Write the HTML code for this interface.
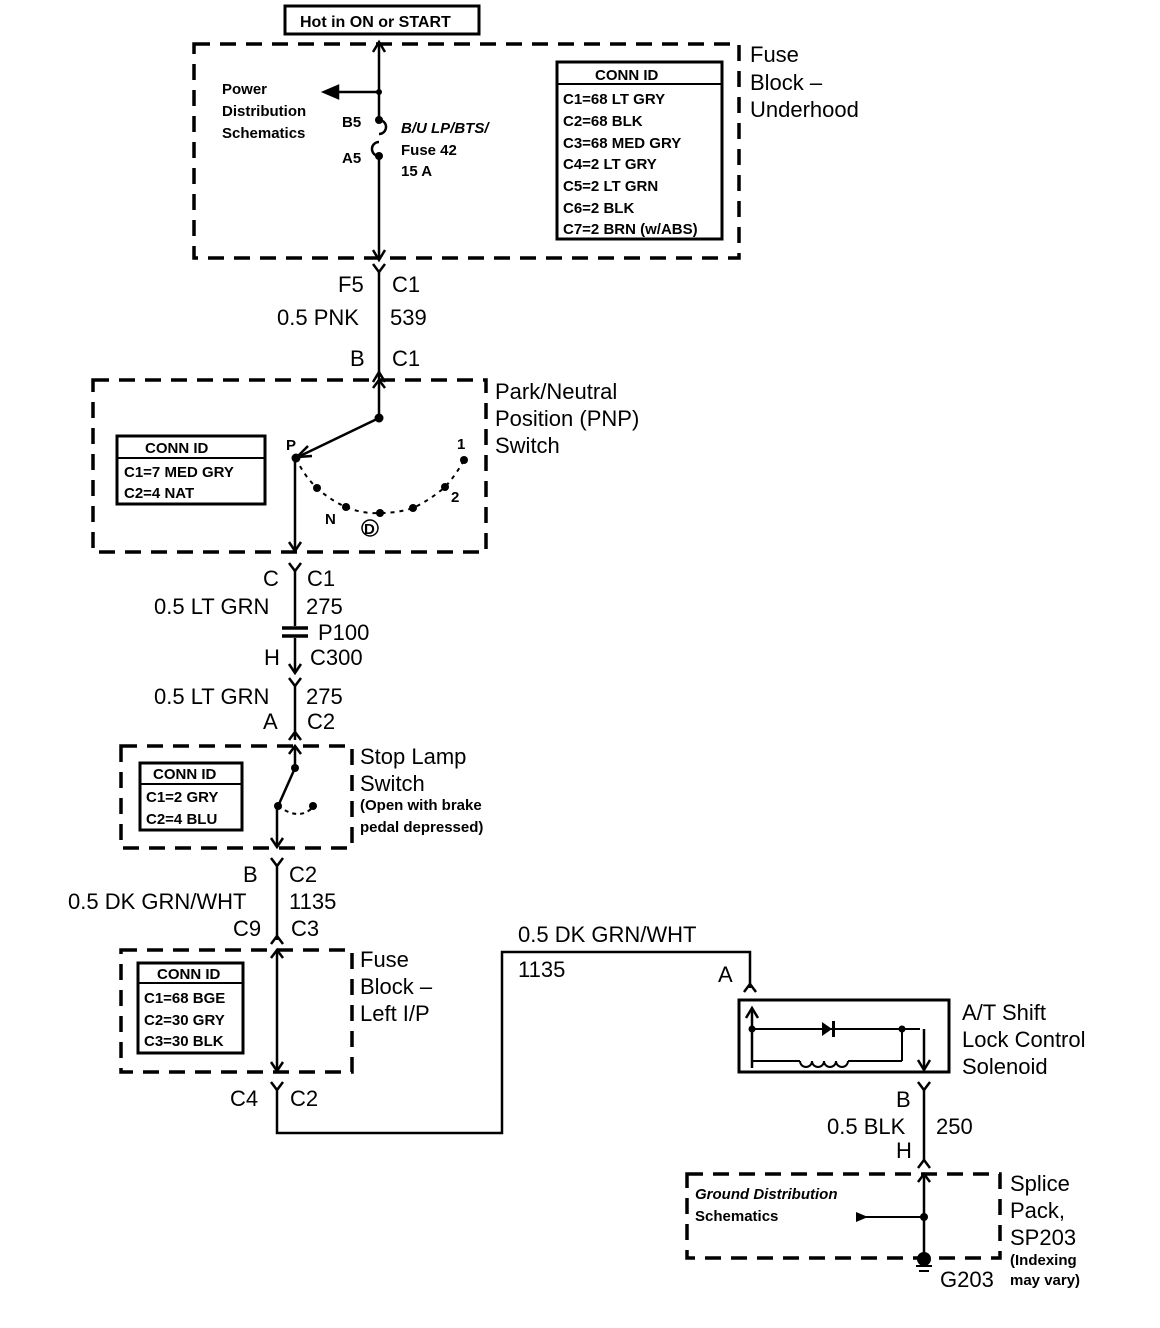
<!DOCTYPE html>
<html><head><meta charset="utf-8"><style>
html,body{margin:0;padding:0;background:#fff}
svg{display:block}
text{font-family:"Liberation Sans",Arial,sans-serif;fill:#000}
.b{font-size:22px}
.s{font-size:15px;font-weight:bold}
.m{font-size:17px}
</style></head><body>
<svg width="1160" height="1328" viewBox="0 0 1160 1328" xmlns="http://www.w3.org/2000/svg">
<g fill="none" stroke="#000" stroke-width="2.5">
<rect x="285" y="6" width="194" height="28" stroke-width="3"/>
<rect x="194" y="44" width="545" height="214" stroke-dasharray="16,10" stroke-width="3.5"/>
<rect x="557" y="62" width="165" height="177" stroke-width="3"/>
<line x1="557" y1="84" x2="722" y2="84" stroke-width="2"/>
<line x1="379" y1="44" x2="379" y2="118"/>
<path d="M373,52 L379,42 L385,52"/>
<line x1="379" y1="92" x2="330" y2="92"/>
<path d="M338,86 L324,92 L338,98 z" fill="#000"/>
<path d="M379,120 A7,7 0 0 1 379,134 M379,142 A7,7 0 0 0 379,156"/>
<line x1="379" y1="158" x2="379" y2="258"/>
<path d="M373,250 L379,260 L385,250"/>
<path d="M373,264 L379,272 L385,264"/>
<line x1="379" y1="270" x2="379" y2="380"/>
<path d="M373,382 L379,372 L385,382"/>
<rect x="93" y="380" width="393" height="172" stroke-dasharray="16,10" stroke-width="3.5"/>
<rect x="117" y="436" width="148" height="68" stroke-width="3"/>
<line x1="117" y1="458" x2="265" y2="458" stroke-width="2"/>
<line x1="379" y1="380" x2="379" y2="418"/>
<path d="M373,388 L379,380 L385,388"/>
<line x1="379" y1="418" x2="300" y2="456"/>
<path d="M308,446 L297,457 L312,456"/>
<path d="M296,458 Q304,476 317,488 Q330,500 346,507 Q362,514 380,513 Q398,513 413,508 Q430,500 445,487 Q456,475 464,460" stroke-dasharray="4,5" stroke-width="2"/>
<line x1="295" y1="458" x2="295" y2="550"/>
<path d="M289,542 L295,551 L301,542"/>
<path d="M289,563 L295,571 L301,563"/>
<line x1="295" y1="569" x2="295" y2="626"/>
<path d="M282,628 L308,628 M282,636 L308,636" stroke-width="3.5"/>
<line x1="295" y1="638" x2="295" y2="672"/>
<path d="M289,664 L295,673 L301,664"/>
<path d="M289,678 L295,686 L301,678"/>
<line x1="295" y1="684" x2="295" y2="740"/>
<path d="M289,740 L295,732 L301,740"/>
<rect x="121" y="746" width="231" height="102" stroke-dasharray="16,10" stroke-width="3.5"/>
<rect x="140" y="763" width="102" height="67" stroke-width="3"/>
<line x1="140" y1="784" x2="242" y2="784" stroke-width="2"/>
<line x1="295" y1="746" x2="295" y2="768"/>
<path d="M289,754 L295,746 L301,754"/>
<line x1="295" y1="768" x2="279" y2="804"/>
<path d="M278,806 Q300,822 314,806" stroke-dasharray="4,4" stroke-width="2"/>
<line x1="277" y1="806" x2="277" y2="846"/>
<path d="M271,838 L277,847 L283,838"/>
<path d="M271,858 L277,866 L283,858"/>
<line x1="277" y1="864" x2="277" y2="940"/>
<path d="M271,944 L277,936 L283,944"/>
<rect x="121" y="950" width="231" height="122" stroke-dasharray="16,10" stroke-width="3.5"/>
<rect x="138" y="963" width="105" height="90" stroke-width="3"/>
<line x1="138" y1="983" x2="243" y2="983" stroke-width="2"/>
<line x1="277" y1="950" x2="277" y2="1070"/>
<path d="M271,958 L277,950 L283,958"/>
<path d="M271,1062 L277,1071 L283,1062"/>
<path d="M271,1082 L277,1090 L283,1082"/>
<polyline points="277,1088 277,1133 502,1133 502,952 750,952 750,988"/>
<path d="M744,992 L750,984 L756,992"/>
<rect x="739" y="1000" width="210" height="72" stroke-width="3"/>
<polyline points="752,1068 752,1010"/>
<path d="M746,1018 L752,1008 L758,1018"/>
<line x1="752" y1="1029" x2="920" y2="1029" stroke-width="2"/>
<line x1="752" y1="1061" x2="800" y2="1061" stroke-width="2"/>
<path d="M800,1061 a6,6 0 0 0 12,0 a6,6 0 0 0 12,0 a6,6 0 0 0 12,0 a6,6 0 0 0 12,0" stroke-width="2"/>
<line x1="848" y1="1061" x2="902" y2="1061" stroke-width="2"/>
<line x1="902" y1="1029" x2="902" y2="1061" stroke-width="2"/>
<line x1="924" y1="1029" x2="924" y2="1068"/>
<path d="M918,1060 L924,1070 L930,1060"/>
<path d="M918,1082 L924,1090 L930,1082"/>
<line x1="924" y1="1088" x2="924" y2="1162"/>
<path d="M918,1168 L924,1160 L930,1168"/>
<rect x="687" y="1174" width="313" height="84" stroke-dasharray="16,10" stroke-width="3.5"/>
<line x1="924" y1="1174" x2="924" y2="1258"/>
<path d="M918,1182 L924,1174 L930,1182"/>
<line x1="924" y1="1217" x2="866" y2="1217" stroke-width="2"/>
<line x1="916" y1="1266" x2="932" y2="1266" stroke-width="2"/>
<line x1="919" y1="1271" x2="929" y2="1271" stroke-width="2"/>
</g>
<g fill="#000">
<circle cx="379" cy="92" r="3"/><circle cx="379" cy="120" r="4"/><circle cx="379" cy="156" r="4"/>
<circle cx="379" cy="418" r="4.5"/><circle cx="296" cy="458" r="4.5"/><circle cx="464" cy="460" r="4"/>
<circle cx="317" cy="488" r="4"/><circle cx="346" cy="507" r="4"/><circle cx="380" cy="513" r="4"/><circle cx="413" cy="508" r="4"/><circle cx="445" cy="487" r="4"/>
<circle cx="295" cy="768" r="4"/><circle cx="278" cy="806" r="4"/><circle cx="313" cy="806" r="4"/>
<circle cx="752" cy="1029" r="3.5"/><circle cx="902" cy="1029" r="3.5"/>
<path d="M822,1022 L832,1029 L822,1036 z"/><rect x="832" y="1021" width="3" height="16"/>
<circle cx="924" cy="1217" r="4"/><path d="M856,1212 L868,1217 L856,1222 z"/>
<circle cx="924" cy="1259" r="7"/>
</g>
<text x="300" y="27" class="s" style="font-size:16px">Hot in ON or START</text>
<text x="750" y="62" class="b">Fuse</text><text x="750" y="90" class="b">Block –</text><text x="750" y="117" class="b">Underhood</text>
<text x="222" y="94" class="s">Power</text><text x="222" y="116" class="s">Distribution</text><text x="222" y="138" class="s">Schematics</text>
<text x="342" y="127" class="s">B5</text><text x="342" y="163" class="s">A5</text>
<text x="401" y="133" class="s" font-style="italic">B/U LP/BTS/</text><text x="401" y="155" class="s">Fuse 42</text><text x="401" y="176" class="s">15 A</text>
<text x="595" y="80" class="s">CONN ID</text>
<text x="563" y="104" class="s">C1=68 LT GRY</text><text x="563" y="126" class="s">C2=68 BLK</text><text x="563" y="148" class="s">C3=68 MED GRY</text><text x="563" y="169" class="s">C4=2 LT GRY</text><text x="563" y="191" class="s">C5=2 LT GRN</text><text x="563" y="213" class="s">C6=2 BLK</text><text x="563" y="234" class="s">C7=2 BRN (w/ABS)</text>
<text x="338" y="292" class="b">F5</text><text x="392" y="292" class="b">C1</text>
<text x="277" y="325" class="b">0.5 PNK</text><text x="390" y="325" class="b">539</text>
<text x="350" y="366" class="b">B</text><text x="392" y="366" class="b">C1</text>
<text x="495" y="399" class="b">Park/Neutral</text><text x="495" y="426" class="b">Position (PNP)</text><text x="495" y="453" class="b">Switch</text>
<text x="145" y="453" class="s">CONN ID</text><text x="124" y="477" class="s">C1=7 MED GRY</text><text x="124" y="498" class="s">C2=4 NAT</text>
<text x="286" y="450" class="s">P</text><text x="457" y="449" class="s">1</text><text x="451" y="502" class="s">2</text><text x="325" y="524" class="s">N</text>
<circle cx="370" cy="528" r="8" fill="none" stroke="#000" stroke-width="1.5"/><text x="364" y="534" class="s">D</text>
<text x="263" y="586" class="b">C</text><text x="307" y="586" class="b">C1</text>
<text x="154" y="614" class="b">0.5 LT GRN</text><text x="306" y="614" class="b">275</text>
<text x="318" y="640" class="b">P100</text>
<text x="264" y="665" class="b">H</text><text x="310" y="665" class="b">C300</text>
<text x="154" y="704" class="b">0.5 LT GRN</text><text x="306" y="704" class="b">275</text>
<text x="263" y="729" class="b">A</text><text x="307" y="729" class="b">C2</text>
<text x="360" y="764" class="b">Stop Lamp</text><text x="360" y="791" class="b">Switch</text>
<text x="360" y="810" class="s">(Open with brake</text><text x="360" y="832" class="s">pedal depressed)</text>
<text x="153" y="779" class="s">CONN ID</text><text x="146" y="802" class="s">C1=2 GRY</text><text x="146" y="824" class="s">C2=4 BLU</text>
<text x="243" y="882" class="b">B</text><text x="289" y="882" class="b">C2</text>
<text x="68" y="909" class="b">0.5 DK GRN/WHT</text><text x="289" y="909" class="b">1135</text>
<text x="233" y="936" class="b">C9</text><text x="291" y="936" class="b">C3</text>
<text x="360" y="967" class="b">Fuse</text><text x="360" y="994" class="b">Block –</text><text x="360" y="1021" class="b">Left I/P</text>
<text x="157" y="979" class="s">CONN ID</text><text x="144" y="1003" class="s">C1=68 BGE</text><text x="144" y="1025" class="s">C2=30 GRY</text><text x="144" y="1046" class="s">C3=30 BLK</text>
<text x="230" y="1106" class="b">C4</text><text x="290" y="1106" class="b">C2</text>
<text x="518" y="942" class="b">0.5 DK GRN/WHT</text><text x="518" y="977" class="b">1135</text>
<text x="718" y="982" class="b">A</text>
<text x="962" y="1020" class="b">A/T Shift</text><text x="962" y="1047" class="b">Lock Control</text><text x="962" y="1074" class="b">Solenoid</text>
<text x="896" y="1107" class="b">B</text><text x="827" y="1134" class="b">0.5 BLK</text><text x="936" y="1134" class="b">250</text>
<text x="896" y="1158" class="b">H</text>
<text x="1010" y="1191" class="b">Splice</text><text x="1010" y="1218" class="b">Pack,</text><text x="1010" y="1245" class="b">SP203</text>
<text x="1010" y="1265" class="s">(Indexing</text><text x="1010" y="1285" class="s">may vary)</text>
<text x="940" y="1287" class="b">G203</text>
<text x="695" y="1199" class="s" font-style="italic">Ground Distribution</text><text x="695" y="1221" class="s">Schematics</text>
</svg>
</body></html>
